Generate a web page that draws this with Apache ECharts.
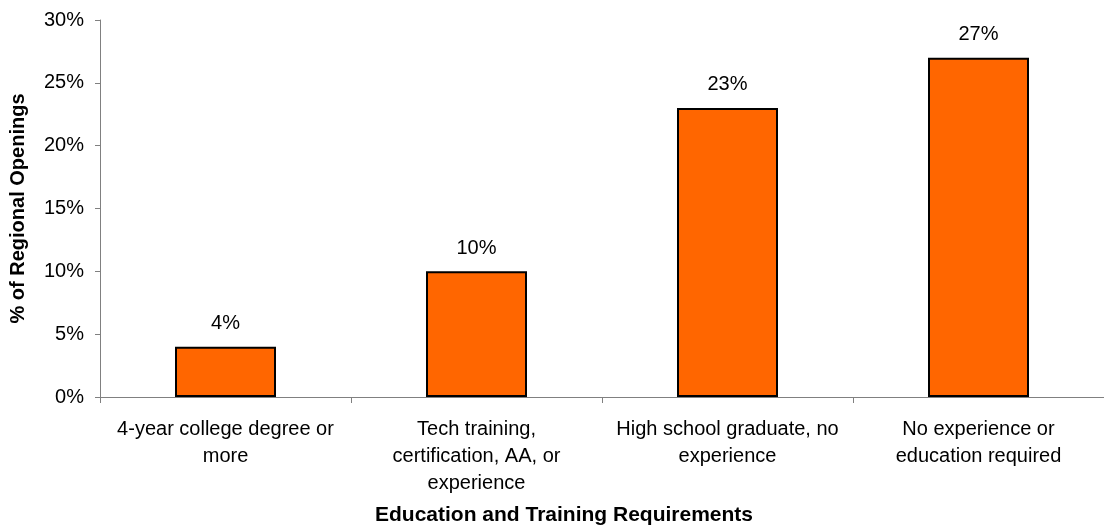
<!DOCTYPE html>
<html>
<head>
<meta charset="utf-8">
<script src="https://cdn.jsdelivr.net/npm/echarts@6/dist/echarts.min.js"></script>
<style>
html,body{margin:0;padding:0;background:#fff;}
#chart{width:1104px;height:532px;}
</style>
</head>
<body>
<div id="chart"></div>
<script>
const categories = [
  "4-year college degree or\nmore",
  "Tech training,\ncertification, AA, or\nexperience",
  "High school graduate, no\nexperience",
  "No experience or\neducation required"
];
const values = [4, 10, 23, 27];
const yTicks = { min: 0, max: 30, interval: 5 };
const xTitle = "Education and Training Requirements";
const yTitle = "% of Regional Openings";

const FONT = "'Liberation Sans', Arial, sans-serif";
const chart = echarts.init(document.getElementById('chart'));
chart.setOption({
  animation: false,
  backgroundColor: '#ffffff',
  textStyle: { fontFamily: FONT, color: '#000' },
  title: {
    text: xTitle,
    left: 564,
    top: 505,
    textAlign: 'center',
    padding: 0,
    textStyle: { fontFamily: FONT, fontSize: 21, fontWeight: 'bold', color: '#000' }
  },
  grid: { left: 100, right: -7, top: 20, bottom: 135 },
  xAxis: {
    type: 'category',
    data: categories,
    axisLine: { lineStyle: { color: '#808080', width: 1 } },
    axisTick: { show: true, length: 6, lineStyle: { color: '#808080' } },
    axisLabel: {
      interval: 0, margin: 19, fontSize: 20, lineHeight: 27,
      color: '#000', fontFamily: FONT, align: 'center'
    }
  },
  yAxis: {
    type: 'value',
    min: yTicks.min, max: yTicks.max, interval: yTicks.interval,
    name: yTitle,
    nameLocation: 'middle',
    nameGap: 72,
    nameRotate: 90,
    nameTextStyle: { fontFamily: FONT, fontSize: 20, fontWeight: 'bold', color: '#000' },
    axisLine: { show: true, lineStyle: { color: '#808080', width: 1 } },
    axisTick: { show: true, length: 5, lineStyle: { color: '#808080' } },
    splitLine: { show: false },
    axisLabel: { formatter: '{value}%', fontSize: 20, margin: 16, color: '#000', fontFamily: FONT }
  },
  series: [{
    type: 'bar',
    data: values,
    barWidth: 101,
    itemStyle: { color: '#FF6600', borderColor: '#000', borderWidth: 2 },
    label: {
      show: true, position: 'top', distance: 13,
      formatter: '{c}%', fontSize: 20, color: '#000', fontFamily: FONT
    }
  }]
});
</script>
</body>
</html>
